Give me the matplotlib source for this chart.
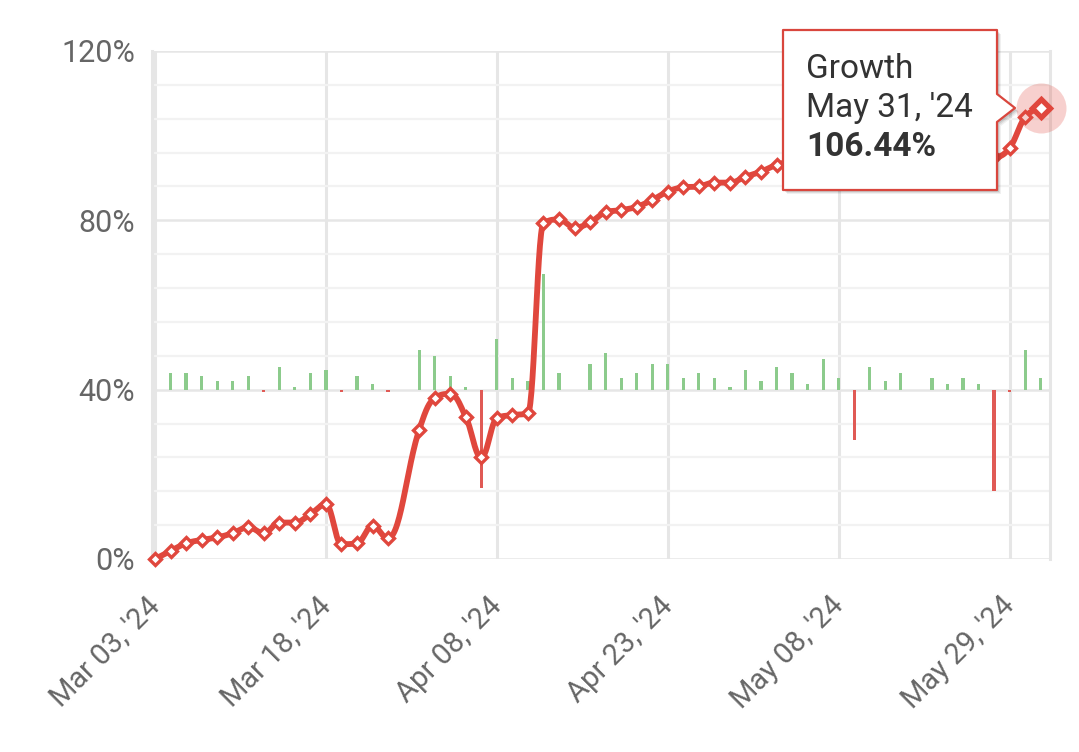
import matplotlib
matplotlib.use("Agg")
import numpy as np
import matplotlib.pyplot as plt
from matplotlib.patches import Polygon
from matplotlib.transforms import ScaledTranslation

# ---------------- data ----------------
tick_idx = [0, 11, 22, 33, 44, 55]
tick_labels = ["Mar 03, '24", "Mar 18, '24", "Apr 08, '24", "Apr 23, '24", "May 08, '24", "May 29, '24"]
y_ticks = [0, 40, 80, 120]
y_labels = ["0%", "40%", "80%", "120%"]

# cumulative growth (%) per point index, None = no point
growth = [0.0, 1.9, 3.7, 4.5, 5.1, 6.1, 7.5, 6.1, 8.6, 8.6,
          10.6, 12.9, 3.5, 3.7, 7.8, 4.9, None, 30.5, 38.0, 39.0,
          33.6, 24.0, 33.2, 34.0, 34.4, 79.3, 80.2, 78.3, 79.5, 81.9,
          82.4, 83.2, 84.8, 86.8, 87.8, 88.0, 88.9, 88.9, 90.3, 91.5,
          93.1, 94.0, 94.5, 96.2, 96.8, 93.6, 95.0, 95.6, 96.6, 96.6,
          97.3, 97.7, 98.4, 98.9, 95.0, 97.1, 104.4, 106.44]

# daily result (secondary axis)
daily = [0.0, 4.0, 4.0, 3.3, 2.05, 2.05, 3.3, -0.55, 5.35, 0.7,
         4.0, 4.65, -0.5, 3.3, 1.4, -0.5, 0.0, 9.3, 8.0, 3.3,
         0.7, -23.2, 12.0, 2.7, 2.05, 27.4, 4.0, 0.0, 6.0, 8.7,
         2.7, 4.0, 6.0, 6.0, 2.7, 4.0, 2.7, 0.7, 4.65, 2.05,
         5.35, 4.0, 1.4, 7.3, 2.7, -11.8, 5.35, 2.05, 4.0, 0.0,
         2.7, 1.4, 2.7, 1.4, -23.9, -0.6, 9.3, 2.7]

tooltip_title = "Growth"
tooltip_date = "May 31, '24"
tooltip_value = "106.44%"

# ---------------- style ----------------
RED = "#E0473D"
GREEN = "#8CCB8C"
BARRED = "#E05A55"
GRID = "#E6E6E6"
GRID_MINOR = "#F2F2F2"
LABEL = "#666666"
W, H = 1079, 752
plt.rcParams['font.family'] = ['Roboto', 'DejaVu Sans']

fig = plt.figure(figsize=(W / 100, H / 100), dpi=100)
pos = [151.9 / W, 1 - 559 / H, 898.1 / W, 508 / H]
xlim = (-0.2, 57.6)

# background grid axes
ax_bg = fig.add_axes(pos, zorder=1)
ax_bg.set_xlim(*xlim)
ax_bg.set_ylim(0, 120)
ax_bg.set_yticks(y_ticks)
ax_bg.set_yticks(np.arange(0, 121, 8), minor=True)
ax_bg.set_xticks(tick_idx)
ax_bg.grid(which='minor', axis='y', color=GRID_MINOR, lw=1.6)
ax_bg.grid(which='major', axis='y', color=GRID, lw=1.8)
ax_bg.grid(which='major', axis='x', color=GRID, lw=2.2)
ax_bg.tick_params(which='both', length=0, labelbottom=False, labelleft=False)
for s in ['top', 'bottom']:
    ax_bg.spines[s].set_visible(False)
for s in ['left', 'right']:
    ax_bg.spines[s].set_color(GRID)
    ax_bg.spines[s].set_linewidth(2.2)

# bars axes (secondary scale)
ax_bar = fig.add_axes(pos, zorder=2)
ax_bar.patch.set_visible(False)
ax_bar.set_xlim(*xlim)
ax_bar.set_ylim(-40, 80)
ax_bar.axis('off')
xs_all = np.arange(len(daily))
d = np.array(daily)
ax_bar.bar(xs_all, d, width=0.21, color=[GREEN if v >= 0 else BARRED for v in d], linewidth=0)

# main line axes
ax = fig.add_axes(pos, zorder=3)
ax.patch.set_visible(False)
ax.set_xlim(*xlim)
ax.set_ylim(0, 120)
for s in ax.spines.values():
    s.set_visible(False)
ax.set_yticks(y_ticks, y_labels)
ax.tick_params(axis='y', length=0, pad=12, labelsize=22, labelcolor=LABEL)
ax.set_xticks(tick_idx, tick_labels)
ax.tick_params(axis='x', length=0, pad=14, labelsize=21, labelcolor=LABEL)
for lab in ax.get_xticklabels():
    lab.set_rotation(45)
    lab.set_ha('right')
    lab.set_va('top')
    lab.set_rotation_mode('anchor')
    lab.set_transform(lab.get_transform() + ScaledTranslation(-0.09, -0.13, fig.dpi_scale_trans))

# Highcharts-style spline (control points computed in pixel space)
px_per_x = 898.1 / (xlim[1] - xlim[0])
px_per_y = 508 / 120.0
pts = [(i, g) for i, g in enumerate(growth) if g is not None]
X = np.array([p[0] for p in pts], float) * px_per_x
Y = -np.array([p[1] for p in pts], float) * px_per_y
n = len(X)
sm = 1.5
den = sm + 1
lc = [(X[i], Y[i]) for i in range(n)]
rc = [(X[i], Y[i]) for i in range(n)]
for i in range(1, n - 1):
    px_, py_ = X[i], Y[i]
    lx, ly = X[i - 1], Y[i - 1]
    nx, ny = X[i + 1], Y[i + 1]
    lcx = (sm * px_ + lx) / den
    lcy = (sm * py_ + ly) / den
    rcx = (sm * px_ + nx) / den
    rcy = (sm * py_ + ny) / den
    corr = 0.0
    if rcx != lcx:
        corr = (rcy - lcy) * (rcx - px_) / (rcx - lcx) + py_ - rcy
    lcy += corr
    rcy += corr
    if lcy > ly and lcy > py_:
        lcy = max(ly, py_)
        rcy = 2 * py_ - lcy
    elif lcy < ly and lcy < py_:
        lcy = min(ly, py_)
        rcy = 2 * py_ - lcy
    if rcy > ny and rcy > py_:
        rcy = max(ny, py_)
        lcy = 2 * py_ - rcy
    elif rcy < ny and rcy < py_:
        rcy = min(ny, py_)
        lcy = 2 * py_ - rcy
    lc[i] = (lcx, lcy)
    rc[i] = (rcx, rcy)

t = np.linspace(0, 1, 30)[:, None]
curve = []
for i in range(1, n):
    p0 = np.array([X[i - 1], Y[i - 1]])
    p1 = np.array(rc[i - 1])
    p2 = np.array(lc[i])
    p3 = np.array([X[i], Y[i]])
    seg = ((1 - t) ** 3) * p0 + 3 * ((1 - t) ** 2) * t * p1 + 3 * (1 - t) * t ** 2 * p2 + t ** 3 * p3
    curve.append(seg if i == 1 else seg[1:])
curve = np.vstack(curve)
ax.plot(curve[:, 0] / px_per_x, -curve[:, 1] / px_per_y, color=RED, lw=4.2,
        solid_capstyle='round', solid_joinstyle='round', zorder=3, clip_on=False)

mx = np.array([p[0] for p in pts])
my = np.array([p[1] for p in pts])
ax.plot(mx[:-1], my[:-1], ls='none', marker='D', ms=6.0, mfc='white', mec=RED, mew=2.4,
        zorder=4, clip_on=False)
# hover state on last point
ax.plot(mx[-1], my[-1], ls='none', marker='o', ms=36, mfc=RED, mec='none', alpha=0.25,
        zorder=5, clip_on=False)
ax.plot(mx[-1], my[-1], ls='none', marker='D', ms=9.5, mfc='white', mec=RED, mew=3.8,
        zorder=6, clip_on=False)

# ---------------- tooltip ----------------
def f(x, y):
    return (x / W, 1 - y / H)

box = [(783, 30), (997, 30), (997, 94), (1015, 108), (997, 122), (997, 190), (783, 190)]
for off, a in [(4, 0.06), (3, 0.08), (2, 0.1)]:
    fig.add_artist(Polygon([f(x + off, y + off) for x, y in box], closed=True,
                           transform=fig.transFigure, facecolor='black', edgecolor='none',
                           alpha=a, zorder=9))
fig.add_artist(Polygon([f(x, y) for x, y in box], closed=True, transform=fig.transFigure,
                       facecolor='white', edgecolor='#D9463D', lw=1.6, zorder=10,
                       joinstyle='round'))
fig.text(*f(806, 69), tooltip_title, fontsize=24, color='#333333', va='center', ha='left', zorder=11)
fig.text(*f(806, 108), tooltip_date, fontsize=24, color='#333333', va='center', ha='left', zorder=11)
fig.text(*f(806, 147), tooltip_value, fontsize=24, color='#333333', va='center', ha='left',
         fontweight='bold', zorder=11)

fig.savefig("out.png", dpi=100, facecolor='white')
